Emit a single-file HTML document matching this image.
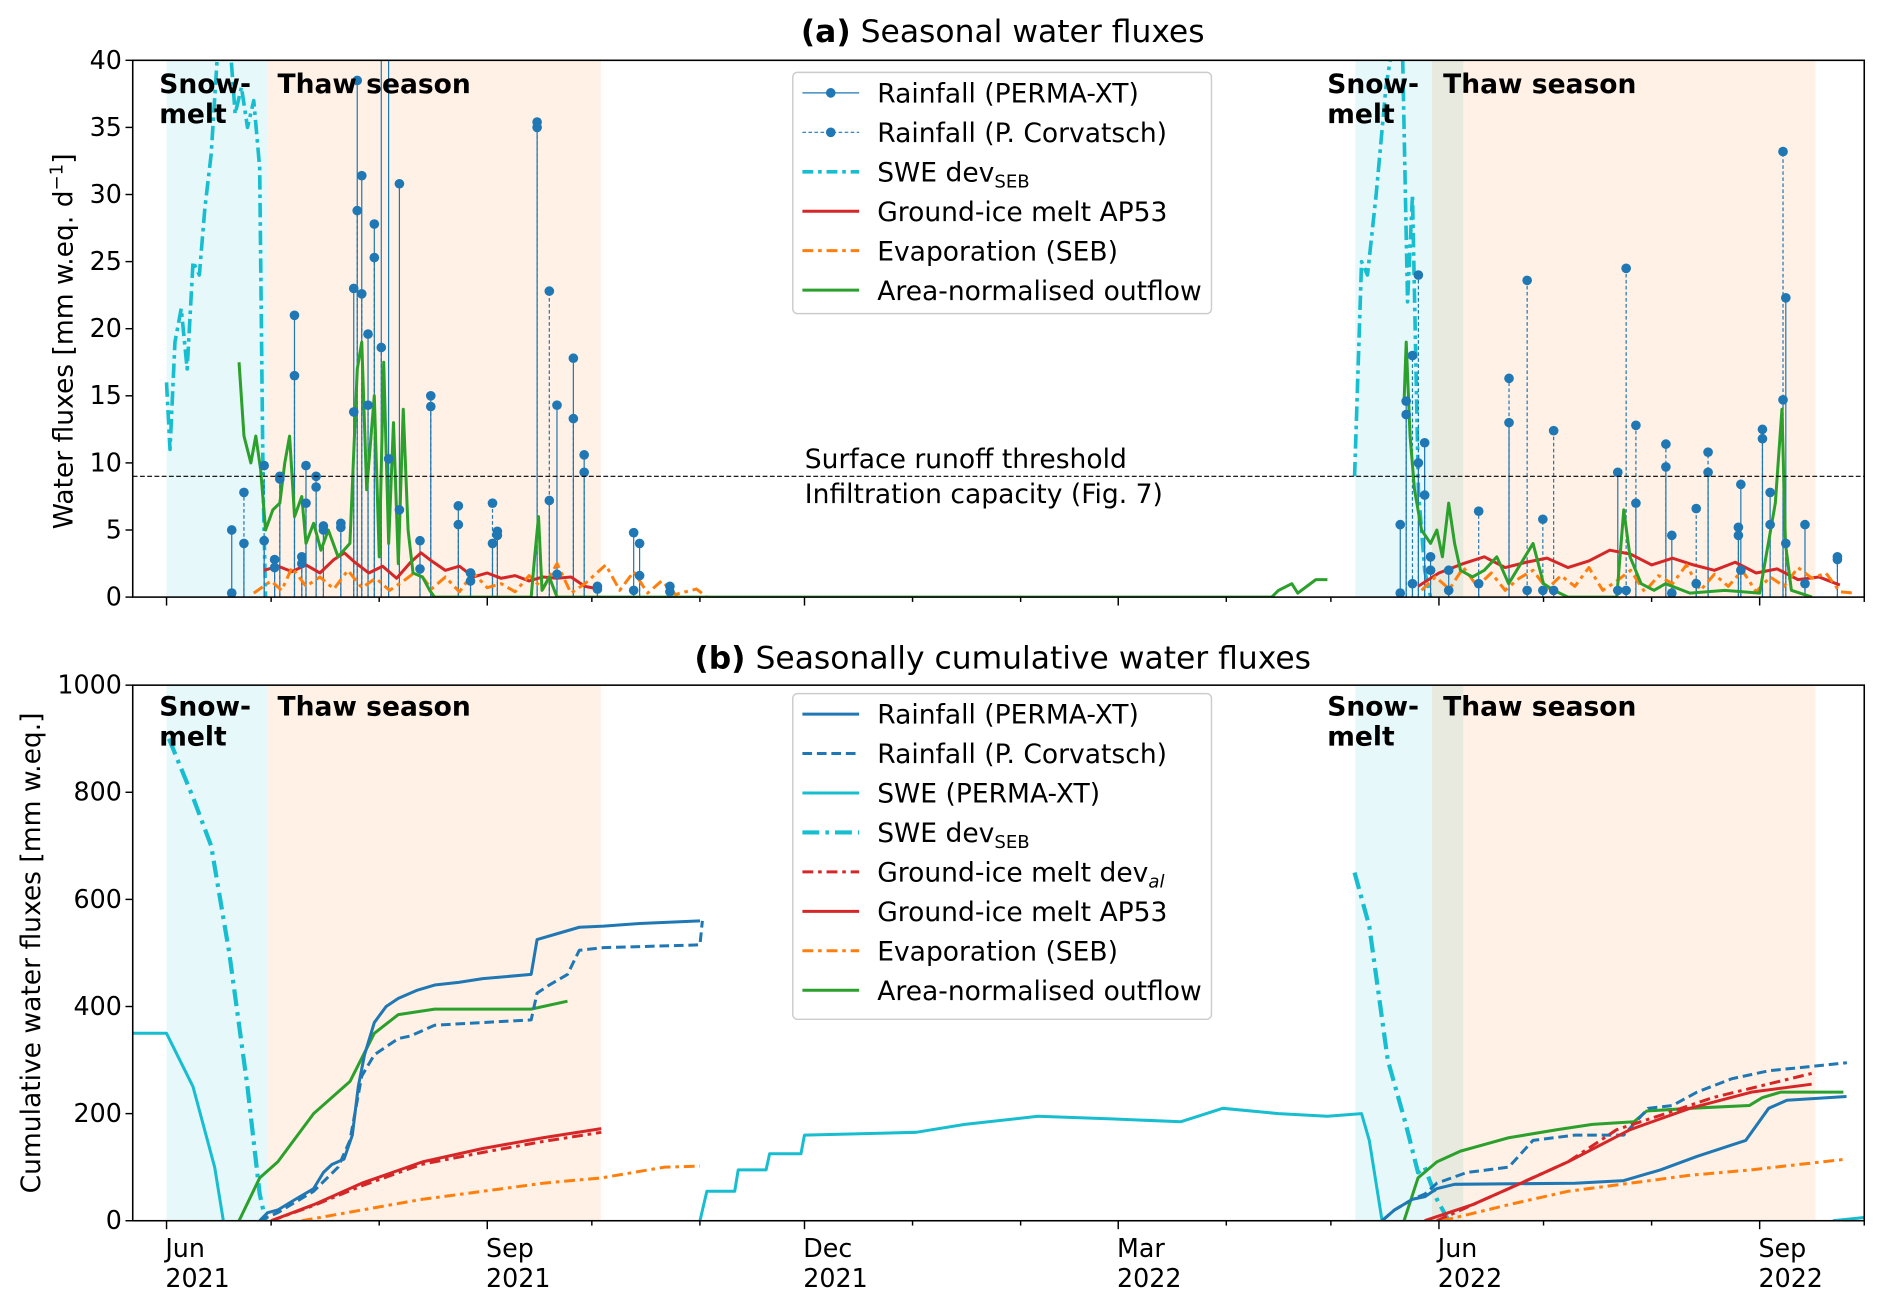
<!DOCTYPE html>
<html><head><meta charset="utf-8"><style>
html,body{margin:0;padding:0;background:#fff}
svg{display:block;font-family:"DejaVu Sans","Liberation Sans",sans-serif}
</style></head><body>
<svg id="chart" width="1892" height="1310" viewBox="0 0 1568 1086" preserveAspectRatio="none" xmlns="http://www.w3.org/2000/svg">
<defs>
<clipPath id="clipA"><rect x="110" y="50" width="1435" height="445"/></clipPath>
<clipPath id="clipB"><rect x="110" y="568" width="1435" height="444"/></clipPath>
</defs>
<g id="root"></g>
</svg>
<script>
// ---- data (days since 2021-06-01) ----
const monthTickDays=[0,30,61,92,122,153,183,214,245,273,304,334,365,395,426,457,487];
const majorTickDays=[0,92,183,273,365,457];
const majorTickLabels=[["Jun","2021"],["Sep","2021"],["Dec","2021"],["Mar","2022"],["Jun","2022"],["Sep","2022"]];
const yTicksA=[0,5,10,15,20,25,30,35,40];
const yTicksB=[0,200,400,600,800,1000];
const runoffThreshold=9;
const snowmeltSpans=[[0,29],[341,372]];
const thawSpans=[[29,124.6],[363,473]];
const rainDays=[18.7,22.2,28,31,32.5,36.7,38.8,40,42.9,45,50,53.7,54.7,56,57.8,59.6,61.6,63.7,66.8,72.7,75.8,83.7,87.2,93.5,94.9,106.3,109.8,112,116.7,119.8,123.6,134,135.7,144.4,
353.9,355.6,357.4,359.1,360.9,362.6,367.8,376.4,385.1,390.3,394.8,397.9,416.3,418.7,421.5,430.1,431.8,438.8,442.2,450.9,451.6,457.8,460,463.7,464.5,470,479.3];
const rainPerma=[5,4,4.2,2.8,9,21,3,9.8,9,5,5.2,23,38.5,31.4,19.6,27.8,45,45,30.8,4.2,15,6.8,1.8,4,4.9,35.4,7.2,14.3,17.8,10.6,0.8,4.8,4,0.8,
5.4,14.6,1,10,11.5,3,2,1,13,0.5,0.5,0.5,9.3,0.5,7,9.7,4.6,1,9.3,4.6,8.4,12.5,7.8,14.7,22.3,5.4,2.8];
const rainCorv=[0.3,7.8,9.8,2.2,8.8,16.5,2.5,7,8.2,5.3,5.5,13.8,28.8,22.6,14.3,25.3,18.6,10.3,6.5,2.1,14.2,5.4,1.2,7,4.6,35,22.8,1.7,13.3,9.3,0.6,0.5,1.6,0.4,
0.3,13.6,18,24,7.6,2,0.5,6.4,16.3,23.6,5.8,12.4,0.5,24.5,12.8,11.4,0.3,6.6,10.8,5.2,2,11.8,5.4,33.2,4,1,3];
const sweA1Days=[0,1,2.4,4.2,5.9,7.6,9.4,11,12.8,14.5,18,19.7,21.5,23.2,25,26.7,27.7,28.4];
const sweA1Vals=[16,11,19,21.5,17,25,24,29,33,40,42,36,38,35,37,32,8,0];
const sweA2Days=[340.8,342.8,344.5,347,349.8,352.2,354.6,356,357.4,359.1,360.9,362.6];
const sweA2Vals=[9,25,24,30,38,42,40,22,30,8,2,0];
const meltA1Days=[28,32,36,40,44,48,51,54,58,62,66,70,73,76,80,84,88,92,96,100,104,108,112,116,120,124];
const meltA1Vals=[2.0,2.3,1.9,2.4,1.8,2.8,3.3,2.6,1.8,2.3,1.4,2.6,3.3,2.7,2.0,2.3,1.5,1.8,1.4,1.6,1.2,1.5,1.4,1.5,0.8,0.6];
const meltA2Days=[359,365,372,378,384,390,396,402,408,414,420,426,432,438,444,450,456,462,468,474,480];
const meltA2Vals=[0.8,1.8,2.5,3,2.2,2.6,2.9,2.2,2.7,3.5,3.2,2.4,2.9,2.4,2.0,2.6,1.8,2.1,1.3,1.5,0.9];
const evapA1Days=[25,30,33,36,40,44,48,52,56,60,64,68,72,76,80,84,88,92,96,100,104,108,112,116,120,126,130,134,138,142,146,152,155];
const evapA1Vals=[0.3,1.2,0.5,2.2,0.8,1.5,0.6,2.0,0.7,1.4,0.5,1.2,2.0,0.6,1.5,0.4,1.8,0.7,1.0,0.4,1.6,0.6,2.5,0.3,1.0,2.4,0.5,1.9,0.3,1.2,0.2,0.6,0];
const evapA2Days=[360,364,368,372,376,380,384,388,392,396,400,404,408,412,416,420,424,428,432,436,440,444,448,452,456,460,464,468,472,476,480,484];
const evapA2Vals=[0.5,1.5,0.6,2.2,0.8,1.8,0.5,1.4,2.0,0.6,1.6,0.8,2.2,0.5,1.2,2.0,0.4,1.6,1.0,2.4,0.5,1.7,0.8,2.0,0.4,1.5,0.8,2.2,1.4,1.8,0.4,0.3];
const outA1Days=[20.8,22.2,24.2,25.6,27,28.4,30.5,32.5,33.9,35.3,36.7,38.8,40,42.2,44.3,46.4,49.2,52.6,54.7,56,57.4,59.6,61,62.3,63.7,65.1,66.5,67.9,69.3,70.7,73.4,75.5,76.9,104.6,105.6,106.7,107.7,109.8,112,317,319,322.8,324.5,329.7,333];
const outA1Vals=[17.5,12,10,12,9.5,5,6.5,7,10,12,6,7.5,4,5.5,3.5,5,3,4,17,19,8,15,3,17.5,4,13,2.5,14,5,1.8,1.5,0.5,0,0,3,6,0.5,1.5,0,0,0.5,1,0.3,1.3,1.3];
const outA2Days=[355,355.6,356.7,358,360,362.6,364.4,366,367.8,369.5,371.2,374.6,378,381.6,385,388.5,392,395,398,402,416,418,419.8,423,426.7,430,437,447,457,461.5,463.4,464.4,466.1,472];
const outA2Vals=[14.5,19,12,8,5,4,5,3,7,4,2,1.5,2,3,1,2.5,4,1,0.5,0,0,6.5,3,1,0.5,1,0.3,0.5,0.3,7,14,4,0.5,0];
const cRainP1Days=[26.7,29,31.9,37,42.2,45,47.4,50.9,53.3,55,56.8,59.6,63,66.5,71.7,76.9,83.8,90.7,104.6,106.3,111.5,118.4,125.4,135.7,153];
const cRainP1Vals=[0,15,20,40,60,90,105,115,160,250,310,370,400,415,430,440,445,452,460,525,535,548,550,555,560];
const cRainC1Days=[26.7,31.9,37,42.2,49.2,52.6,56,59.6,66.5,70,76.9,90.7,104.6,106.3,109.8,115,118.4,125.4,153,153.7];
const cRainC1Vals=[0,15,35,55,100,150,270,310,340,345,365,370,375,425,440,460,505,510,515,560];
const cRainP2Days=[348.7,352.2,357.4,361,364.4,369.5,404,418,428.6,439,453,459.6,464.8,481.9];
const cRainP2Vals=[0,20,40,45,60,68,70,75,95,120,150,210,225,232];
const cRainC2Days=[348.7,352.2,357.4,361,364.4,373,385,392,404,418,425,432,439,449,459.6,482];
const cRainC2Vals=[0,20,40,50,70,90,100,150,160,160,210,215,240,265,280,295];
const cSwe1Days=[-10,0,7.6,13.8,16.3];
const cSwe1Vals=[350,350,250,100,0];
const cSwe2Days=[153,155,163,164,172,173,182,183,215,229,250,271,291,303,319,333,342.8,345,348.7];
const cSwe2Vals=[0,55,55,95,95,125,125,160,165,180,195,190,185,210,200,195,200,150,0];
const cSwe3Days=[478,487];
const cSwe3Vals=[0,6];
const cSweDev1Days=[0.7,7.6,12.8,18,23.2,26.7,28.4];
const cSweDev1Vals=[900,790,700,500,250,50,0];
const cSweDev2Days=[340.8,345,350.3,355.5,359,360.9,364.4,367.8];
const cSweDev2Vals=[650,550,300,180,90,100,40,0];
const cOut1Days=[20.8,26.7,31.9,42.2,52.6,59.6,66.5,76.9,104.6,115];
const cOut1Vals=[0,80,110,200,260,350,385,395,395,410];
const cOut2Days=[355,359,364.4,371.2,385,399,409,421,424.6,437,454,457.8,463,481];
const cOut2Vals=[0,80,110,130,155,170,180,185,205,210,215,230,240,240];
const cMelt1Days=[30,42.2,56,73.4,90.7,108,124.7];
const cMelt1Vals=[0,30,70,110,135,155,172];
const cMeltDev1Days=[30,42,56,73,91,108,124.7];
const cMeltDev1Vals=[0,28,65,105,128,148,165];
const cMelt2Days=[360.9,374.6,388.5,402,419.8,437,454.6,471.9];
const cMelt2Vals=[0,30,70,110,170,210,240,255];
const cMeltDev2Days=[364.4,381.6,402,416,430,443.6,471.9];
const cMeltDev2Vals=[0,50,110,170,200,230,275];
const cEvap1Days=[38.8,56,73.4,90.7,108,124.7,142.8,153];
const cEvap1Vals=[0,20,40,55,70,80,100,102];
const cEvap2Days=[366,385,402,419.8,437,454.6,481.9];
const cEvap2Vals=[0,30,55,70,85,95,115];

const L=110,R=1545,D0=-9.7,D1=487;
const A={top:50,bot:495,max:40}, B={top:568,bot:1012,max:1000};
const xs=d=>L+(d-D0)/(D1-D0)*(R-L);
const ya=v=>A.bot-v/A.max*(A.bot-A.top);
const yb=v=>B.bot-v/B.max*(B.bot-B.top);
const NS="http://www.w3.org/2000/svg";
const root=document.getElementById('root');
function el(tag,attrs,parent,text){const e=document.createElementNS(NS,tag);for(const k in attrs)e.setAttribute(k,attrs[k]);if(text!==undefined)e.textContent=text;(parent||root).appendChild(e);return e;}
const C={blue:"#1f77b4",cyan:"#17becf",red:"#d62728",orange:"#ff7f0e",green:"#2ca02c"};
function path(days,vals,ys,style,parent,name){const d=days.map((t,i)=>(i?"L":"M")+xs(t).toFixed(1)+","+ys(vals[i]).toFixed(1)).join("");const p=el('path',Object.assign({d:d,fill:"none","stroke-linejoin":"round"},style),parent);

return p;}

function axesFrame(ax,ys,ticks,name){
  const g=el('g',{});
  
  
  snowmeltSpans.forEach(s=>{const r=el('rect',{x:xs(s[0]),y:ax.top,width:xs(s[1])-xs(s[0]),height:ax.bot-ax.top,fill:C.cyan,"fill-opacity":0.11},g);
    
    });
  thawSpans.forEach(s=>{const r=el('rect',{x:xs(s[0]),y:ax.top,width:xs(s[1])-xs(s[0]),height:ax.bot-ax.top,fill:C.orange,"fill-opacity":0.11},g);
    
    });
  ticks.forEach(t=>{const y=ys(t);el('line',{x1:L-6,x2:L,y1:y,y2:y,stroke:"#000","stroke-width":1.2},g);
    const tx=el('text',{x:L-9,y:y+7,"text-anchor":"end","font-size":21},g,String(t));
    
    });
  monthTickDays.forEach(d=>{const x=xs(d);const maj=majorTickDays.includes(d);el('line',{x1:x,x2:x,y1:ax.bot,y2:ax.bot+(maj?7:4),stroke:"#000","stroke-width":1.2},g);});
  return g;
}
const ga=axesFrame(A,ya,yTicksA,'panel-a-axes');
const ca=el('g',{"clip-path":"url(#clipA)"});


path(sweA1Days,sweA1Vals,ya,{stroke:C.cyan,"stroke-width":3,"stroke-dasharray":"12,4,3,4"},ca,'swe-dev-2021');
path(sweA2Days,sweA2Vals,ya,{stroke:C.cyan,"stroke-width":3,"stroke-dasharray":"12,4,3,4"},ca,'swe-dev-2022');
rainDays.forEach((d,i)=>{const x=xs(d);
  const s1=el('line',{x1:x,x2:x,y1:ya(0),y2:ya(rainPerma[i]),stroke:C.blue,"stroke-width":1},ca);
  
  
  const s2=el('line',{x1:x,x2:x,y1:ya(0),y2:ya(rainCorv[i]),stroke:C.blue,"stroke-width":1,"stroke-dasharray":"3,2"},ca);
  
  
});
path(meltA1Days,meltA1Vals,ya,{stroke:C.red,"stroke-width":2.5},ca,'ground-ice-melt-2021');
path(meltA2Days,meltA2Vals,ya,{stroke:C.red,"stroke-width":2.5},ca,'ground-ice-melt-2022');
path(evapA1Days,evapA1Vals,ya,{stroke:C.orange,"stroke-width":2.5,"stroke-dasharray":"9,4,3,4"},ca,'evaporation-2021');
path(evapA2Days,evapA2Vals,ya,{stroke:C.orange,"stroke-width":2.5,"stroke-dasharray":"9,4,3,4"},ca,'evaporation-2022');
path(outA1Days,outA1Vals,ya,{stroke:C.green,"stroke-width":2.5},ca,'outflow-2021');
path(outA2Days,outA2Vals,ya,{stroke:C.green,"stroke-width":2.5},ca,'outflow-2022');
path([112,317],[0,0],ya,{stroke:C.green,"stroke-width":2},ca,'outflow-baseline');
rainDays.forEach((d,i)=>{const x=xs(d);
  const m1=el('circle',{cx:x,cy:ya(rainPerma[i]),r:4,fill:C.blue},ca);
  
  
  const m2=el('circle',{cx:x,cy:ya(rainCorv[i]),r:4,fill:C.blue},ca);
  
  
});
const thr=el('line',{x1:L,x2:R,y1:ya(runoffThreshold),y2:ya(runoffThreshold),stroke:"#000","stroke-width":1,"stroke-dasharray":"4,2"});


const gb=axesFrame(B,yb,yTicksB,'panel-b-axes');
const cb=el('g',{"clip-path":"url(#clipB)"});


path(cSwe1Days,cSwe1Vals,yb,{stroke:C.cyan,"stroke-width":2.5},cb,'cum-swe-2021');
path(cSwe2Days,cSwe2Vals,yb,{stroke:C.cyan,"stroke-width":2.5},cb,'cum-swe-winter');
path(cSwe3Days,cSwe3Vals,yb,{stroke:C.cyan,"stroke-width":2.5},cb,'cum-swe-2022');
path(cSweDev1Days,cSweDev1Vals,yb,{stroke:C.cyan,"stroke-width":3.5,"stroke-dasharray":"14,5,3,5"},cb,'cum-swe-dev-2021');
path(cSweDev2Days,cSweDev2Vals,yb,{stroke:C.cyan,"stroke-width":3.5,"stroke-dasharray":"14,5,3,5"},cb,'cum-swe-dev-2022');
path(cOut1Days,cOut1Vals,yb,{stroke:C.green,"stroke-width":2.5},cb,'cum-outflow-2021');
path(cOut2Days,cOut2Vals,yb,{stroke:C.green,"stroke-width":2.5},cb,'cum-outflow-2022');
path(cRainC1Days,cRainC1Vals,yb,{stroke:C.blue,"stroke-width":2.5,"stroke-dasharray":"8,4"},cb,'cum-rain-corvatsch-2021');
path(cRainC2Days,cRainC2Vals,yb,{stroke:C.blue,"stroke-width":2.5,"stroke-dasharray":"8,4"},cb,'cum-rain-corvatsch-2022');
path(cRainP1Days,cRainP1Vals,yb,{stroke:C.blue,"stroke-width":2.5},cb,'cum-rain-permaxt-2021');
path(cRainP2Days,cRainP2Vals,yb,{stroke:C.blue,"stroke-width":2.5},cb,'cum-rain-permaxt-2022');
path(cMeltDev1Days,cMeltDev1Vals,yb,{stroke:C.red,"stroke-width":2.5,"stroke-dasharray":"9,4,3,4"},cb,'cum-melt-dev-2021');
path(cMeltDev2Days,cMeltDev2Vals,yb,{stroke:C.red,"stroke-width":2.5,"stroke-dasharray":"9,4,3,4"},cb,'cum-melt-dev-2022');
path(cMelt1Days,cMelt1Vals,yb,{stroke:C.red,"stroke-width":2.5},cb,'cum-melt-2021');
path(cMelt2Days,cMelt2Vals,yb,{stroke:C.red,"stroke-width":2.5},cb,'cum-melt-2022');
path(cEvap1Days,cEvap1Vals,yb,{stroke:C.orange,"stroke-width":2.5,"stroke-dasharray":"9,4,3,4"},cb,'cum-evap-2021');
path(cEvap2Days,cEvap2Vals,yb,{stroke:C.orange,"stroke-width":2.5,"stroke-dasharray":"9,4,3,4"},cb,'cum-evap-2022');
[A,B].forEach((ax,i)=>{const r=el('rect',{x:L,y:ax.top,width:R-L,height:ax.bot-ax.top,fill:"none",stroke:"#000","stroke-width":1.3});
  
  });
majorTickDays.forEach((d,i)=>{const t=el('text',{x:xs(d),y:1042,"text-anchor":"start","font-size":21},root);
  
  
  el('tspan',{x:xs(d)-1,dy:0},t,majorTickLabels[i][0]);
  el('tspan',{x:xs(d)-1,dy:25},t,majorTickLabels[i][1]);
});
</script>
<script>
(function(){
const NS="http://www.w3.org/2000/svg";const root=document.getElementById('root');
function el(tag,attrs,parent,text){const e=document.createElementNS(NS,tag);for(const k in attrs)e.setAttribute(k,attrs[k]);if(text!==undefined)e.textContent=text;(parent||root).appendChild(e);return e;}
root.insertAdjacentHTML('beforeend',`
<text x="831" y="35" text-anchor="middle" font-size="26"><tspan font-weight="bold">(a)</tspan> Seasonal water fluxes</text>
<text x="831" y="554" text-anchor="middle" font-size="26"><tspan font-weight="bold">(b)</tspan> Seasonally cumulative water fluxes</text>
<text transform="translate(60,283) rotate(-90)" text-anchor="middle" font-size="22">Water fluxes [mm w.eq. d<tspan baseline-shift="super" font-size="15">−1</tspan>]</text>
<text transform="translate(33,790) rotate(-90)" text-anchor="middle" font-size="22">Cumulative water fluxes [mm w.eq.]</text>
<text x="667" y="388" font-size="22">Surface runoff threshold</text>
<text x="667" y="417" font-size="22">Infiltration capacity (Fig. 7)</text>
<g font-size="22" font-weight="bold">
<text x="132" y="77">Snow-</text><text x="132" y="102">melt</text><text x="230" y="77">Thaw season</text>
<text x="1100" y="77">Snow-</text><text x="1100" y="102">melt</text><text x="1196" y="77">Thaw season</text>
<text x="132" y="593">Snow-</text><text x="132" y="618">melt</text><text x="230" y="593">Thaw season</text>
<text x="1100" y="593">Snow-</text><text x="1100" y="618">melt</text><text x="1196" y="593">Thaw season</text>
</g>`);
function legend(name,y0,h,items){
  const g=el('g',{});
  
  
  el('rect',{x:657,y:y0,width:347,height:h,rx:4,fill:"#fff","fill-opacity":0.85,stroke:"#ccc","stroke-width":1.2},g);
  items.forEach((it,i)=>{const y=y0+17+i*32.7;
    el('line',Object.assign({x1:665,x2:712,y1:y,y2:y,fill:"none"},it.s),g);
    if(it.m){el('circle',{cx:688.5,cy:y,r:4,fill:"#1f77b4"},g);}
    const t=el('text',{x:727,y:y+8,"font-size":22},g);
    
    
    t.innerHTML=it.t;});
}
const solid=(c,w)=>({stroke:c,"stroke-width":w||2.5});
const dd=(c,w)=>({stroke:c,"stroke-width":w||2.5,"stroke-dasharray":"9,4,3,4"});
legend('legend-a',60,200,[
 {t:"Rainfall (PERMA-XT)",s:solid("#1f77b4",1),m:1},
 {t:"Rainfall (P. Corvatsch)",s:{stroke:"#1f77b4","stroke-width":1,"stroke-dasharray":"3,2"},m:1},
 {t:'SWE dev<tspan font-size="15" dy="5">SEB</tspan>',s:dd("#17becf",3)},
 {t:"Ground-ice melt AP53",s:solid("#d62728")},
 {t:"Evaporation (SEB)",s:dd("#ff7f0e")},
 {t:"Area-normalised outflow",s:solid("#2ca02c")}]);
legend('legend-b',575,270,[
 {t:"Rainfall (PERMA-XT)",s:solid("#1f77b4")},
 {t:"Rainfall (P. Corvatsch)",s:{stroke:"#1f77b4","stroke-width":2.5,"stroke-dasharray":"8,4"}},
 {t:"SWE (PERMA-XT)",s:solid("#17becf")},
 {t:'SWE dev<tspan font-size="15" dy="5">SEB</tspan>',s:{stroke:"#17becf","stroke-width":3.5,"stroke-dasharray":"14,5,3,5"}},
 {t:'Ground-ice melt dev<tspan font-size="15" dy="5" font-style="italic">al</tspan>',s:dd("#d62728")},
 {t:"Ground-ice melt AP53",s:solid("#d62728")},
 {t:"Evaporation (SEB)",s:dd("#ff7f0e")},
 {t:"Area-normalised outflow",s:solid("#2ca02c")}]);
})();
</script>
</body></html>
